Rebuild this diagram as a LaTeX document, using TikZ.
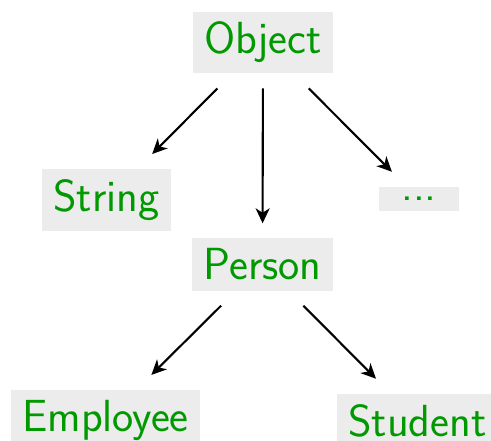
\documentclass[tikz,border=0pt]{standalone}
\usepackage{fontspec}
\usetikzlibrary{arrows.meta}
\definecolor{classgreen}{rgb}{0,0.6,0}
\definecolor{classfill}{gray}{0.925}
\tikzset{
  cls/.style={rectangle, fill=classfill, text=classgreen, inner xsep=11.5pt,
    inner ysep=10.4pt, outer sep=15pt, font=\sffamily\fontsize{45}{50}\selectfont},
  inherit/.style={-{Stealth[length=15pt,width=14pt,inset=4.5pt]}, line width=2.1pt}
}
\begin{document}
\begin{tikzpicture}[x=1pt,y=-1pt]
\useasboundingbox (0,0) rectangle (491,441);
\node[cls] (object)   at (263,42.5)   {Object};
\node[cls] (string)   at (106.5,200)  {String};
\node[cls, minimum width=80pt] (more) at (419,199) {...};
\node[cls] (person)   at (262.5,264.5) {Person};
\node[cls] (employee) at (105.5,420.5) {Employee};
\node[cls] (student)  at (417.5,420.5) {Student};
\draw[inherit] (object) -- (string);
\draw[inherit] (object) -- (person);
\draw[inherit] (object) -- (more);
\draw[inherit] (person) -- (employee);
\draw[inherit] (person) -- (student);
\end{tikzpicture}
\end{document}
